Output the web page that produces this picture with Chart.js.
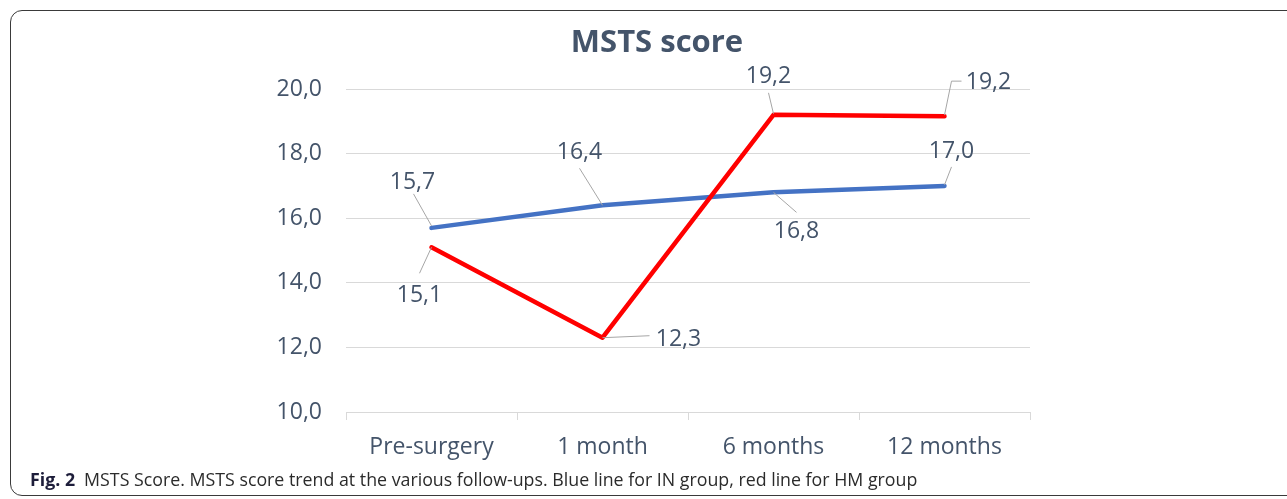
<!DOCTYPE html>
<html>
<head>
<meta charset="utf-8">
<script src="https://cdn.jsdelivr.net/npm/chart.js@4/dist/chart.umd.min.js"></script>
<style>
  html, body { margin: 0; padding: 0; background: #fff; overflow: hidden; }
  #wrap { position: relative; width: 1287px; height: 499px; }
  #frame {
    position: absolute; left: 10px; top: 10px; width: 1300px; height: 486px;
    border: 1.5px solid #3a3a3a; border-radius: 12px; box-sizing: border-box;
  }
  #chart { position: absolute; left: 0; top: 0; }
  #caption {
    position: absolute; left: 30px; top: 468px; white-space: nowrap;
    font: 17.8px "Open Sans", sans-serif; color: #2b2b2b; line-height: 22px;
  }
  #caption b { color: #1d1d3a; margin-right: 9px; }
</style>
</head>
<body>
<div id="wrap">
  <div id="frame"></div>
  <canvas id="chart" width="1287" height="499"></canvas>
  <div id="caption"><b>Fig. 2</b>MSTS Score. MSTS score trend at the various follow-ups. Blue line for IN group, red line for HM group</div>
</div>
<script>
// 資料
const categories = ['Pre-surgery', '1 month', '6 months', '12 months'];
const inGroup = [15.7, 16.4, 16.8, 17.0];   // 藍線
const hmGroup = [15.1, 12.3, 19.2, 19.16];  // 紅線
const yTicks = [10, 12, 14, 16, 18, 20];

const textColor = '#44546a';
const fontFamily = '"Open Sans", sans-serif';

// 數值標籤相對於資料點的位置（文字中心）與引導線
const labelPos = [
    [[-19, -47], [-23, -54], [23, 38], [7, -36]],
    [[-12, 47], [76, 0], [-5, -40], [44, -35]]
];
const leaders = [
    [[[0, -2], [-18, -34]], [[0, 0], [-23, -37]], [[0, 0], [23, 20]], [[0, -1], [7, -19]]],
    [[[0, 0], [-12, 26]], [[0, 0], [47, -2]], [[0, -1], [-5, -22]], [[0, -1], [7, -35], [17, -35]]]
];

const fmt = v => v.toFixed(1).replace('.', ',');

const labelPlugin = {
    id: 'pointLabels',
    afterDatasetsDraw(chart) {
        const ctx = chart.ctx;
        ctx.save();
        // 標題
        ctx.fillStyle = textColor;
        ctx.font = 'bold 31px ' + fontFamily;
        ctx.textAlign = 'center';
        ctx.textBaseline = 'alphabetic';
        ctx.fillText('MSTS score', 657, 52);

        ctx.font = '23px ' + fontFamily;
        chart.data.datasets.forEach((ds, i) => {
            const meta = chart.getDatasetMeta(i);
            meta.data.forEach((pt, j) => {
                const path = leaders[i][j];
                ctx.strokeStyle = '#a6a6a6';
                ctx.lineWidth = 1;
                ctx.beginPath();
                path.forEach((p, k) => {
                    if (k === 0) ctx.moveTo(pt.x + p[0], pt.y + p[1]);
                    else ctx.lineTo(pt.x + p[0], pt.y + p[1]);
                });
                ctx.stroke();
                const [dx, dy] = labelPos[i][j];
                ctx.fillStyle = textColor;
                ctx.fillText(fmt(ds.data[j]), pt.x + dx, pt.y + dy + 8);
            });
        });
        ctx.restore();
    }
};

new Chart(document.getElementById('chart'), {
    type: 'line',
    data: {
        labels: categories,
        datasets: [
            { label: 'IN', data: inGroup, borderColor: '#4472c4', order: 2 },
            { label: 'HM', data: hmGroup, borderColor: '#ff0000', order: 1 }
        ]
    },
    options: {
        responsive: false,
        devicePixelRatio: 1,
        animation: false,
        layout: { padding: { top: 89, right: 257, bottom: 37, left: 0 } },
        elements: {
            line: { borderWidth: 4.5, tension: 0, borderCapStyle: 'round', borderJoinStyle: 'round', fill: false },
            point: { radius: 0, hoverRadius: 0 }
        },
        scales: {
            x: {
                offset: true,
                border: { color: '#d9d9d9', width: 1 },
                grid: { offset: true, drawOnChartArea: false, drawTicks: true, tickLength: 8, color: '#d9d9d9' },
                ticks: { color: textColor, font: { size: 23, family: fontFamily }, padding: 14, maxRotation: 0 },
                afterFit: s => { s.height = 50; }
            },
            y: {
                min: 10, max: 20,
                border: { display: false },
                grid: { color: '#d9d9d9', drawTicks: false },
                afterBuildTicks: s => { s.ticks = yTicks.map(v => ({ value: v })); },
                ticks: { color: textColor, font: { size: 23, family: fontFamily }, padding: 24, callback: v => fmt(v) },
                afterFit: s => { s.width = 346; }
            }
        },
        plugins: { legend: { display: false }, tooltip: { enabled: false }, title: { display: false } }
    },
    plugins: [labelPlugin]
});
</script>
</body>
</html>
